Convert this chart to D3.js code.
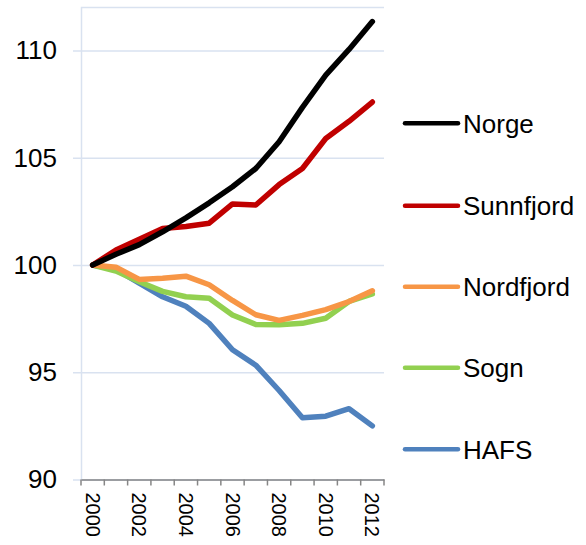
<!DOCTYPE html>
<html>
<head>
<meta charset="utf-8">
<style>
  body { margin: 0; background: #fff; }
  text { font-family: "Liberation Sans", Arial, sans-serif; fill: #000; }
</style>
</head>
<body>
<div id="chart"></div>
<script src="https://d3js.org/d3.v7.min.js"></script>
<script>
// data (index, 2000 = 100)
var years = ["2000","2001","2002","2003","2004","2005","2006","2007","2008","2009","2010","2011","2012"];
var yTicks = [90, 95, 100, 105, 110];
var norge     = [100, 100.5, 100.95, 101.55, 102.2, 102.9, 103.65, 104.5, 105.75, 107.35, 108.85, 110.05, 111.35];
var sunnfjord = [100, 100.7, 101.2, 101.7, 101.8, 101.95, 102.85, 102.8, 103.75, 104.5, 105.9, 106.7, 107.6];
var nordfjord = [100, 99.9, 99.33, 99.38, 99.48, 99.08, 98.35, 97.68, 97.42, 97.65, 97.92, 98.3, 98.8];
var sogn      = [100, 99.72, 99.22, 98.77, 98.52, 98.45, 97.67, 97.23, 97.22, 97.28, 97.52, 98.3, 98.65];
var hafs      = [100, 99.8, 99.15, 98.52, 98.08, 97.28, 96.05, 95.33, 94.15, 92.88, 92.95, 93.3, 92.5];

var seriesNames = ["Norge", "Sunnfjord", "Nordfjord", "Sogn", "HAFS"];
var seriesColors = ["#000000", "#C00000", "#F79646", "#92D050", "#4F81BD"];
var series = [norge, sunnfjord, nordfjord, sogn, hafs];

var width = 586, height = 545;
var plotLeft = 81, plotRight = 384, plotTop = 7, plotBottom = 479.5;

var svg = d3.select("#chart").append("svg")
    .attr("width", width)
    .attr("height", height);

var x = d3.scaleBand().domain(years).range([plotLeft, plotRight]);
var y = d3.scaleLinear().domain([90, 112.03]).range([plotBottom, plotTop]);

// gridlines + y axis
var yAxis = d3.axisLeft(y).tickValues(yTicks).tickSize(-(plotRight - plotLeft)).tickPadding(24);
var gy = svg.append("g")
    .attr("transform", "translate(" + plotLeft + ",0)")
    .call(yAxis);
gy.select(".domain").attr("stroke", "#D9E2F0").attr("stroke-width", 1.5);
gy.selectAll(".tick line").attr("stroke", "#D9E2F0").attr("stroke-width", 1.5)
    .attr("x2", plotRight - plotLeft).attr("x1", -8);
gy.selectAll(".tick text").style("font-size", "26px").attr("font-family", null);

// x axis
var xAxis = d3.axisBottom(x).tickSize(0).tickFormat(function (d, i) { return i % 2 === 0 ? d : ""; });
var gx = svg.append("g")
    .attr("transform", "translate(0," + plotBottom + ")")
    .call(xAxis);
gx.select(".domain").attr("stroke", "#868686").attr("stroke-width", 1.5);
gx.selectAll(".tick text")
    .style("font-size", "20px").attr("font-family", null)
    .attr("transform", "rotate(90)")
    .attr("text-anchor", "start")
    .attr("x", 13).attr("y", 0).attr("dy", "0.35em");

// category boundary ticks
var edges = years.map(function (d) { return x(d); }).concat([plotRight]);
gx.selectAll(".edge").data(edges).enter().append("line")
    .attr("x1", function (d) { return d; }).attr("x2", function (d) { return d; })
    .attr("y1", 0).attr("y2", 6)
    .attr("stroke", "#868686").attr("stroke-width", 1.5);

// lines
var line = d3.line()
    .x(function (d, i) { return x(years[i]) + x.bandwidth() / 2; })
    .y(function (d) { return y(d); });

[4, 3, 2, 1, 0].forEach(function (k) {
    svg.append("path")
        .datum(series[k])
        .attr("fill", "none")
        .attr("stroke", seriesColors[k])
        .attr("stroke-width", 5.5)
        .attr("stroke-linejoin", "round")
        .attr("stroke-linecap", "round")
        .attr("d", line);
});

// legend
var legY = [123.3, 205.7, 286.7, 367.7, 449.3];
var leg = svg.append("g");
seriesNames.forEach(function (name, k) {
    leg.append("line")
        .attr("x1", 405).attr("x2", 458)
        .attr("y1", legY[k]).attr("y2", legY[k])
        .attr("stroke", seriesColors[k])
        .attr("stroke-width", 4.5)
        .attr("stroke-linecap", "round");
    leg.append("text")
        .attr("x", 463).attr("y", legY[k]).attr("dy", "0.36em")
        .style("font-size", "26px")
        .text(name);
});
</script>
</body>
</html>
